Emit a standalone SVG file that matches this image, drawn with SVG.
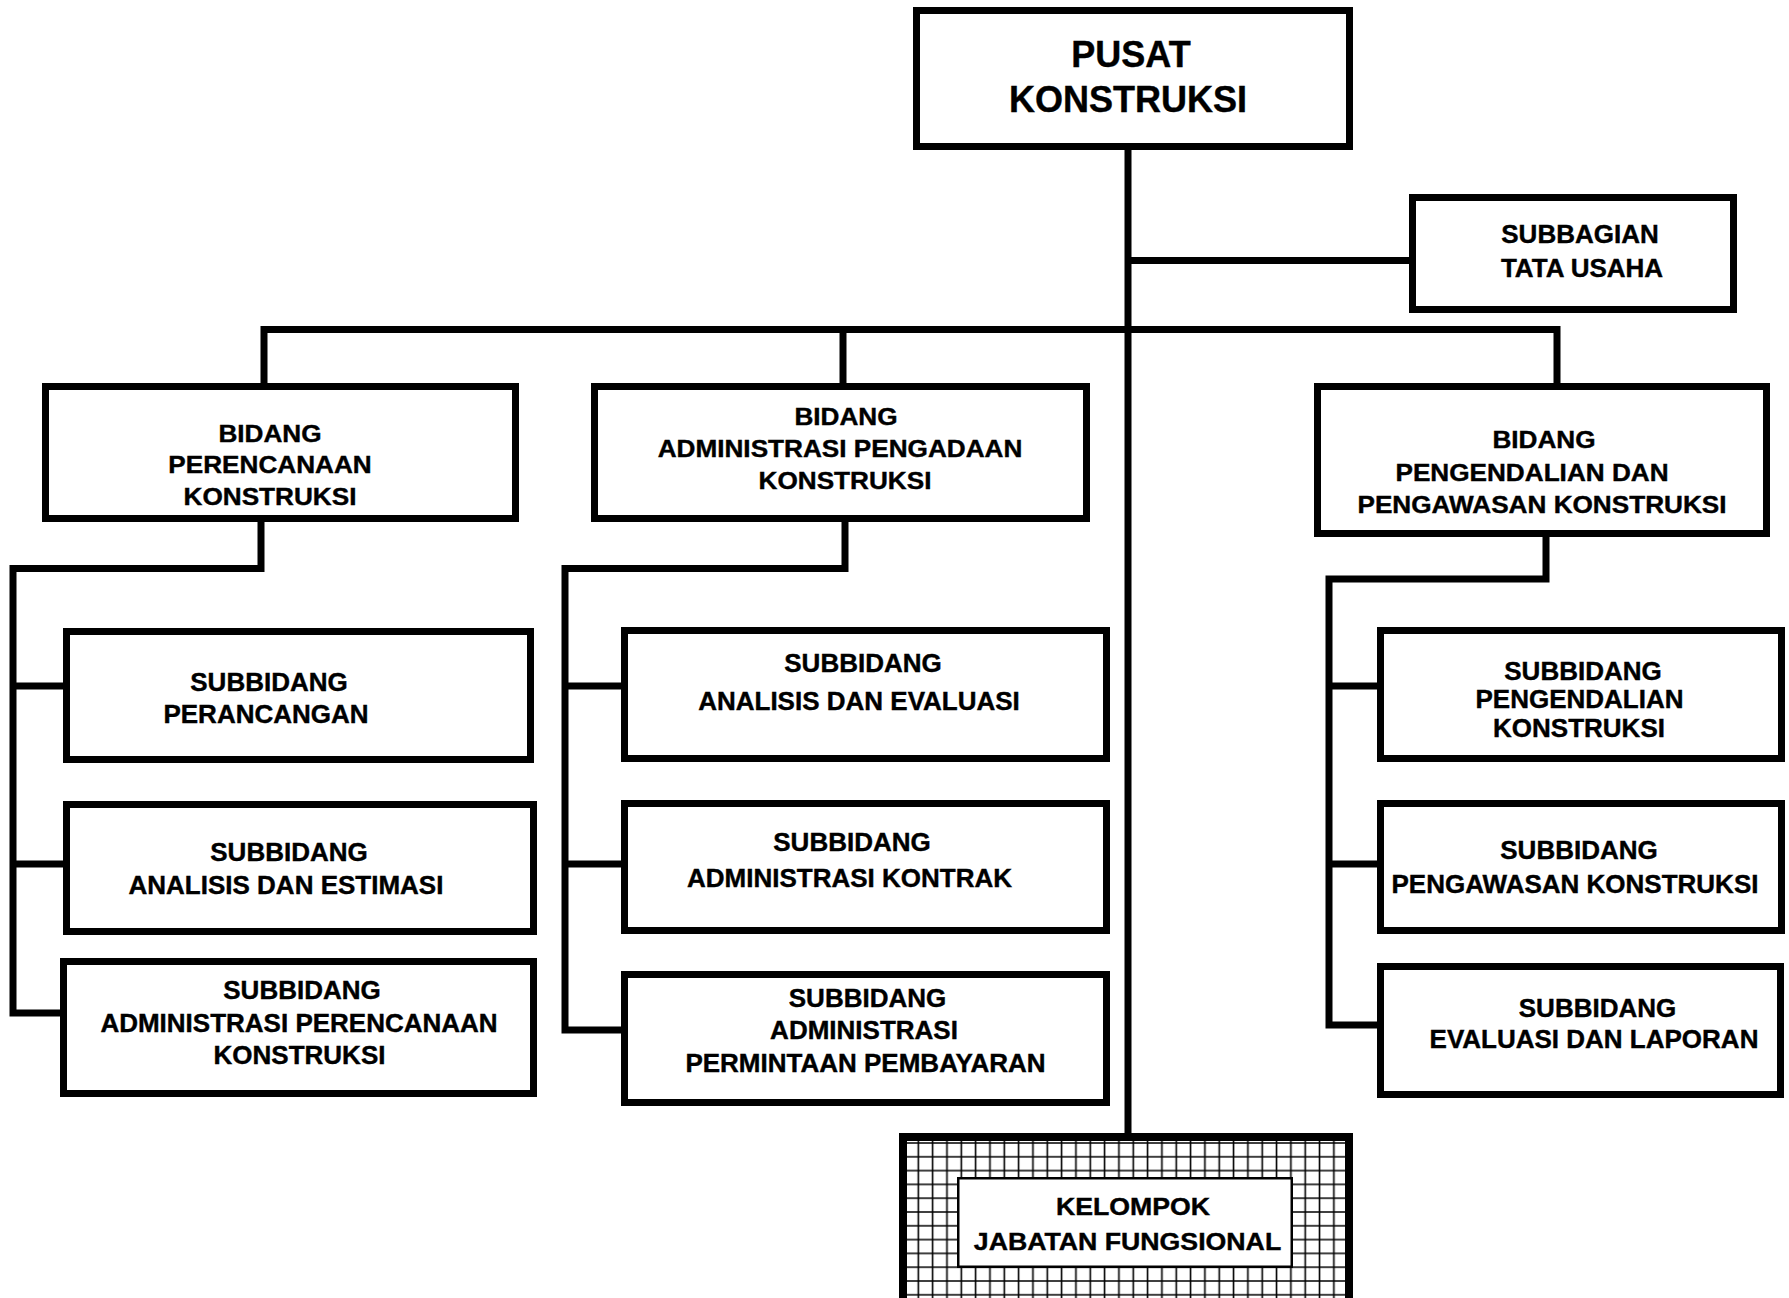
<svg xmlns="http://www.w3.org/2000/svg" width="1789" height="1298" viewBox="0 0 1789 1298">
<defs>
<style>
.box{fill:#fff;stroke:#000;stroke-width:7}
.ln{fill:none;stroke:#000;stroke-width:7;stroke-linejoin:miter;stroke-linecap:butt}
text{font-family:"Liberation Sans",Arial,Helvetica,sans-serif;font-weight:bold;fill:#000;stroke:#000;stroke-width:0.4;text-anchor:middle}
.t36{font-size:36px}
.t26{font-size:26px}
.ts{font-size:24px}
.tk{font-size:24.5px}
</style>
<pattern id="grid" patternUnits="userSpaceOnUse" x="911.15" y="1136.1" width="14.33" height="13.8">
<path d="M7.165 0V13.8M0 6.9H14.33" stroke="#000" stroke-width="1.6" fill="none"/>
</pattern>
</defs>
<rect width="1789" height="1298" fill="#fff"/>

<g id="connectors">
<path class="ln" d="M1128 150V1137"/>
<path class="ln" d="M1128 260.5H1409"/>
<path class="ln" d="M264 383V329.5H1557V383"/>
<path class="ln" d="M843 329.5V383"/>
<path class="ln" d="M261 522V568.5H13V1013H60"/>
<path class="ln" d="M13 686H63M13 864H63"/>
<path class="ln" d="M845 522V568.5H565V1030H621"/>
<path class="ln" d="M565 686H621M565 864H621"/>
<path class="ln" d="M1546 537V579H1329V1025H1377"/>
<path class="ln" d="M1329 686H1377M1329 864H1377"/>
</g>

<g id="pusat">
<rect class="box" x="916.5" y="10.5" width="433" height="136"/>
<text class="t36" x="1131" y="67">PUSAT</text>
<text class="t36" x="1128" y="112">KONSTRUKSI</text>
</g>

<g id="subbagian">
<rect class="box" x="1412.5" y="197.5" width="321" height="112"/>
<text class="t26" x="1580" y="243">SUBBAGIAN</text>
<text class="t26" x="1582" y="277">TATA USAHA</text>
</g>

<g id="bidang-perencanaan">
<rect class="box" x="45.5" y="386.5" width="470" height="132"/>
<text class="ts" transform="translate(270 0) scale(1.09 1)" x="0" y="442">BIDANG</text>
<text class="ts" transform="translate(270 0) scale(1.09 1)" x="0" y="473">PERENCANAAN</text>
<text class="ts" transform="translate(270 0) scale(1.09 1)" x="0" y="505">KONSTRUKSI</text>
</g>

<g id="bidang-administrasi">
<rect class="box" x="594.5" y="386.5" width="492" height="132"/>
<text class="ts" transform="translate(846 0) scale(1.09 1)" x="0" y="425">BIDANG</text>
<text class="ts" transform="translate(840 0) scale(1.09 1)" x="0" y="457">ADMINISTRASI PENGADAAN</text>
<text class="ts" transform="translate(845 0) scale(1.09 1)" x="0" y="489">KONSTRUKSI</text>
</g>

<g id="bidang-pengendalian">
<rect class="box" x="1317.5" y="386.5" width="449" height="147"/>
<text class="ts" transform="translate(1544 0) scale(1.09 1)" x="0" y="448">BIDANG</text>
<text class="ts" transform="translate(1532 0) scale(1.09 1)" x="0" y="481">PENGENDALIAN DAN</text>
<text class="ts" transform="translate(1542 0) scale(1.09 1)" x="0" y="513">PENGAWASAN KONSTRUKSI</text>
</g>

<g id="sub-perancangan">
<rect class="box" x="66.5" y="631.5" width="464" height="128"/>
<text class="t26" x="269" y="691">SUBBIDANG</text>
<text class="t26" x="266" y="723">PERANCANGAN</text>
</g>

<g id="sub-analisis-estimasi">
<rect class="box" x="66.5" y="804.5" width="467" height="127"/>
<text class="t26" x="289" y="861">SUBBIDANG</text>
<text class="t26" x="286" y="894">ANALISIS DAN ESTIMASI</text>
</g>

<g id="sub-adm-perencanaan">
<rect class="box" x="63.5" y="961.5" width="470" height="132"/>
<text class="t26" x="302" y="999">SUBBIDANG</text>
<text class="t26" x="299" y="1032">ADMINISTRASI PERENCANAAN</text>
<text class="t26" x="299.5" y="1064">KONSTRUKSI</text>
</g>

<g id="sub-analisis-evaluasi">
<rect class="box" x="624.5" y="630.5" width="482" height="128"/>
<text class="t26" x="863" y="672">SUBBIDANG</text>
<text class="t26" x="859" y="710">ANALISIS DAN EVALUASI</text>
</g>

<g id="sub-adm-kontrak">
<rect class="box" x="624.5" y="803.5" width="482" height="127"/>
<text class="t26" x="852" y="851">SUBBIDANG</text>
<text class="t26" x="849.5" y="887">ADMINISTRASI KONTRAK</text>
</g>

<g id="sub-adm-pembayaran">
<rect class="box" x="624.5" y="974.5" width="482" height="128"/>
<text class="t26" x="867.5" y="1007">SUBBIDANG</text>
<text class="t26" x="864" y="1039">ADMINISTRASI</text>
<text class="t26" x="865.5" y="1072">PERMINTAAN PEMBAYARAN</text>
</g>

<g id="sub-pengendalian">
<rect class="box" x="1380.5" y="630.5" width="401" height="128"/>
<text class="t26" x="1583" y="680">SUBBIDANG</text>
<text class="t26" x="1579.5" y="708">PENGENDALIAN</text>
<text class="t26" x="1579" y="737">KONSTRUKSI</text>
</g>

<g id="sub-pengawasan">
<rect class="box" x="1380.5" y="803.5" width="401" height="127"/>
<text class="t26" x="1579" y="859">SUBBIDANG</text>
<text class="t26" x="1575" y="893">PENGAWASAN KONSTRUKSI</text>
</g>

<g id="sub-evaluasi">
<rect class="box" x="1380.5" y="966.5" width="400" height="128"/>
<text class="t26" x="1597.5" y="1017">SUBBIDANG</text>
<text class="t26" x="1594" y="1048">EVALUASI DAN LAPORAN</text>
</g>

<g id="kelompok">
<rect x="903" y="1137" width="446" height="200" fill="#fff"/>
<rect x="903" y="1137" width="446" height="200" fill="url(#grid)" stroke="#000" stroke-width="8"/>
<rect x="958.25" y="1178.25" width="333.5" height="88.5" fill="#fff" stroke="#000" stroke-width="2.5"/>
<text class="tk" transform="translate(1133 0) scale(1.09 1)" x="0" y="1215">KELOMPOK</text>
<text class="tk" transform="translate(1127.5 0) scale(1.09 1)" x="0" y="1250">JABATAN FUNGSIONAL</text>
</g>
</svg>
